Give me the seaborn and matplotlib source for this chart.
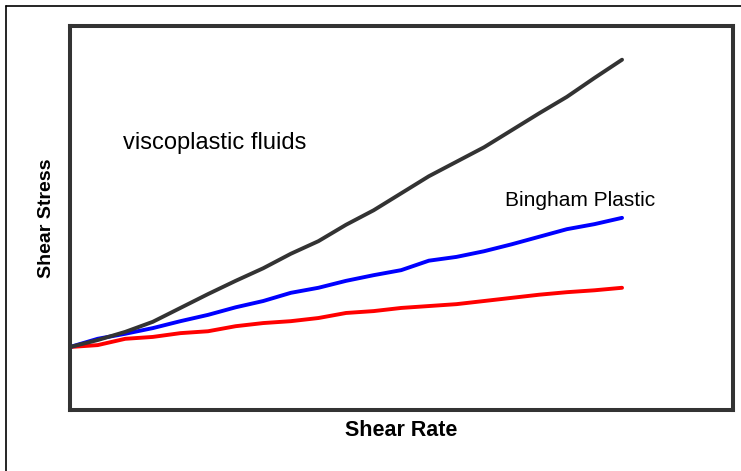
import matplotlib
matplotlib.use("Agg")
import numpy as np
import pandas as pd
import matplotlib.pyplot as plt
import seaborn as sns
from matplotlib.lines import Line2D

# shear rate (arbitrary units)
shear_rate = [0.0, 0.5, 1.0, 1.5, 2.0, 2.5, 3.0, 3.5, 4.0, 4.5, 5.0,
              5.5, 6.0, 6.5, 7.0, 7.5, 8.0, 8.5, 9.0, 9.5, 10.0]

# shear stress for the three curves
stress_viscoplastic = [1.00, 1.11, 1.24, 1.40, 1.62, 1.84, 2.05, 2.25, 2.48, 2.68, 2.94,
                       3.17, 3.44, 3.71, 3.94, 4.17, 4.44, 4.71, 4.97, 5.27, 5.56]
stress_bingham = [1.00, 1.13, 1.21, 1.30, 1.41, 1.51, 1.63, 1.73, 1.86, 1.94, 2.05,
                  2.14, 2.22, 2.37, 2.43, 2.52, 2.63, 2.75, 2.87, 2.95, 3.05]
stress_low = [1.00, 1.03, 1.13, 1.16, 1.22, 1.25, 1.33, 1.38, 1.41, 1.46, 1.54,
              1.57, 1.62, 1.65, 1.68, 1.73, 1.78, 1.83, 1.87, 1.90, 1.94]

curve_names = ["viscoplastic", "bingham", "low"]
curve_colors = {"viscoplastic": "#333333", "bingham": "#0000ff", "low": "#ff0000"}

frames = []
for name, vals in zip(curve_names, [stress_viscoplastic, stress_bingham, stress_low]):
    frames.append(pd.DataFrame({"rate": shear_rate, "stress": vals, "curve": name}))
df = pd.concat(frames, ignore_index=True)

sns.set_style("white")
plt.rcParams["font.family"] = ["Liberation Sans", "DejaVu Sans"]

fig = plt.figure(figsize=(7.41, 4.71), dpi=100)
ax = fig.add_axes([0.0945, 0.1295, 0.8947, 0.8153])

sns.lineplot(data=df, x="rate", y="stress", hue="curve", palette=curve_colors,
             hue_order=["low", "bingham", "viscoplastic"],
             linewidth=2.8, legend=False, ax=ax)

ax.set_xlim(0, 12.01)
ax.set_ylim(0, 6.095)
ax.set_xticks([])
ax.set_yticks([])
for sp in ax.spines.values():
    sp.set_color("#333333")
    sp.set_linewidth(2.9)

ax.set_xlabel("Shear Rate", fontsize=15.5, fontweight="bold", labelpad=7, color="black")
ax.set_ylabel("Shear Stress", fontsize=14, fontweight="bold", labelpad=11, color="black")

ax.text(0.96, 4.24, "viscoplastic fluids", fontsize=17, va="center", ha="left", color="black")
ax.text(7.88, 3.33, "Bingham Plastic", fontsize=15, va="center", ha="left", color="black")

# outer frame (only the left and top edges fall inside the image)
fig.add_artist(Line2D([6 / 741, 6 / 741], [0, 1 - 6 / 471], transform=fig.transFigure,
                      color="black", linewidth=1.2))
fig.add_artist(Line2D([6 / 741, 1], [1 - 6 / 471, 1 - 6 / 471], transform=fig.transFigure,
                      color="black", linewidth=1.2))

fig.savefig("out.png", dpi=100)
